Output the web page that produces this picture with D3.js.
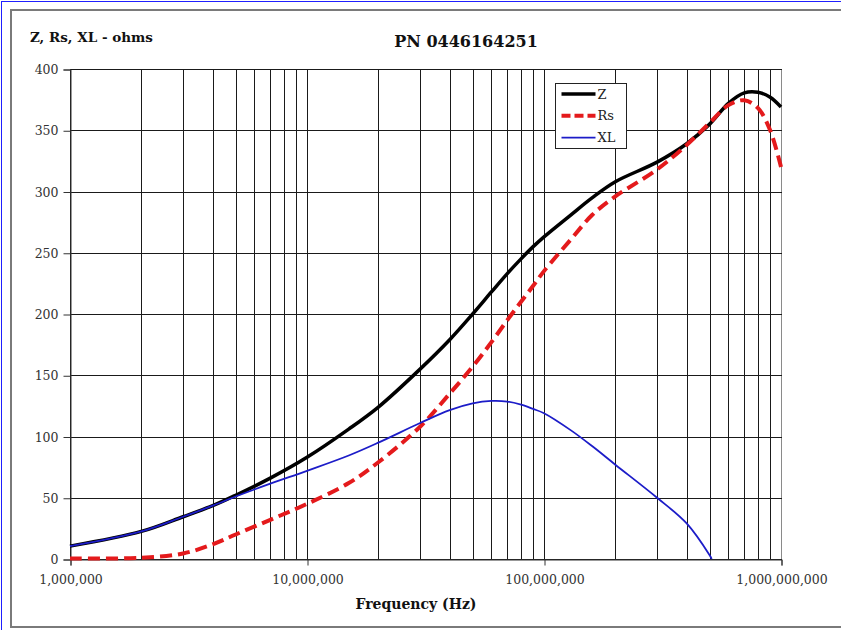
<!DOCTYPE html>
<html>
<head>
<meta charset="utf-8">
<script src="https://cdn.jsdelivr.net/npm/d3@7"></script>
<style>
  html, body { margin: 0; padding: 0; background: #fff; }
  svg { display: block; }
  text { font-family: "DejaVu Serif", "Liberation Serif", serif; }
</style>
</head>
<body>
<svg id="chart" width="841" height="630"></svg>
<script>
// Impedance of ferrite part PN 0446164251 versus frequency
const freqs = [1e6, 2e6, 3e6, 4e6, 5e6, 7e6, 1e7, 1.5e7, 2e7, 3e7, 4e7, 5e7, 6e7, 7e7, 8e7, 9e7,
               1e8, 1.3e8, 1.6e8, 2e8, 3e8, 4e8, 5e8, 6e8, 7e8, 8e8, 9e8, 1e9];
const zOhms = [10.5, 22.5, 34.5, 43.5, 52, 66, 83, 106, 124, 155, 179, 200, 218, 233, 245, 255,
               263, 281, 295, 308, 324, 339, 355, 372, 380.5, 381, 377, 369];
const rsOhms = [0.5, 1, 4.5, 12, 20, 32, 45, 62, 79, 108, 135, 157, 177, 195, 210, 223,
                235, 261, 281, 296, 318, 338, 356, 370.5, 374.5, 368, 350, 320];
const xlFreqs = [1e6, 2e6, 3e6, 4e6, 5e6, 7e6, 1e7, 1.5e7, 2e7, 3e7, 4e7, 5e7, 6e7, 7e7, 8e7, 9e7,
                 1e8, 1.3e8, 1.6e8, 2e8, 3e8, 4e8, 5e8, 5.1e8];
const xlOhms = [10.5, 22.5, 34.5, 43.5, 51, 61.5, 72, 84.5, 95, 111, 121.5, 127, 129, 128.5, 126, 122.5,
                119, 105, 92, 77, 50, 29, 3, 0];
const seriesNames = ["Z", "Rs", "XL"];
const xTickValues = [1e6, 1e7, 1e8, 1e9];
const yTickValues = [0, 50, 100, 150, 200, 250, 300, 350, 400];
const chartTitle = "PN 0446164251";
const yTitle = "Z, Rs, XL - ohms";
const xTitle = "Frequency (Hz)";

const svg = d3.select("#chart");
const plot = { left: 70, right: 781, top: 69, bottom: 559 };

const x = d3.scaleLog().domain([1e6, 1e9]).range([plot.left, plot.right]);
const y = d3.scaleLinear().domain([0, 400]).range([plot.bottom, plot.top]);

// page frame
svg.append("line").attr("x1", 1.5).attr("y1", 1).attr("x2", 1.5).attr("y2", 630)
  .attr("stroke", "#1f1fff").attr("stroke-width", 1);
svg.append("line").attr("x1", 1).attr("y1", 1.5).attr("x2", 841).attr("y2", 1.5)
  .attr("stroke", "#1f1fff").attr("stroke-width", 1);
svg.append("rect").attr("x", 11).attr("y", 10).attr("width", 860).attr("height", 617)
  .attr("fill", "none").attr("stroke", "#7a7a7a").attr("stroke-width", 2);

// vertical grid: every 1..9 x 10^k
const minorFreqs = [];
for (let e = 6; e < 9; e++) for (let m = 1; m <= 9; m++) minorFreqs.push(m * Math.pow(10, e));
minorFreqs.push(1e9);
const grid = svg.append("g").attr("shape-rendering", "crispEdges");
grid.selectAll("line.v").data(minorFreqs).join("line").attr("class", "v")
  .attr("x1", d => Math.round(x(d)) + 0.5).attr("x2", d => Math.round(x(d)) + 0.5)
  .attr("y1", plot.top).attr("y2", plot.bottom)
  .attr("stroke", d => d === 1e9 ? "#8a8a8a" : "#1a1a1a").attr("stroke-width", 1);
grid.selectAll("line.h").data(yTickValues).join("line").attr("class", "h")
  .attr("x1", plot.left).attr("x2", plot.right + 1)
  .attr("y1", d => Math.round(y(d)) + 0.5).attr("y2", d => Math.round(y(d)) + 0.5)
  .attr("stroke", "#1a1a1a").attr("stroke-width", 1);

// axes
const yAxis = d3.axisLeft(y).tickValues(yTickValues).tickSize(7).tickPadding(5)
  .tickFormat(d3.format("d"));
svg.append("g").attr("transform", `translate(${plot.left + 0.5},0.5)`).call(yAxis)
  .call(g => g.select(".domain").attr("stroke", "#333"))
  .call(g => g.selectAll(".tick line").attr("stroke", "#333"))
  .call(g => g.selectAll("text").attr("font-size", 12.5).attr("fill", "#333")
    .attr("font-family", "DejaVu Serif"));

const xAxis = d3.axisBottom(x).tickValues(xTickValues).tickSize(6).tickPadding(10)
  .tickFormat(d3.format(","));
svg.append("g").attr("transform", `translate(0.5,${plot.bottom + 0.5})`).call(xAxis)
  .call(g => g.select(".domain").attr("stroke", "#333"))
  .call(g => g.selectAll(".tick line").attr("stroke", "#333"))
  .call(g => g.selectAll("text").attr("font-size", 12.5).attr("fill", "#333")
    .attr("font-family", "DejaVu Serif"));

// curves
const line = d3.line().x(d => x(d[0])).y(d => y(d[1])).curve(d3.curveCatmullRom.alpha(0.5));
const zPts = d3.zip(freqs, zOhms);
const rsPts = d3.zip(freqs, rsOhms);
const xlPts = d3.zip(xlFreqs, xlOhms);

const styles = {
  Z: { stroke: "#000000", width: 3.5, dash: null },
  Rs: { stroke: "#e41a1c", width: 4, dash: "12,6" },
  XL: { stroke: "#1c1cc8", width: 1.8, dash: null }
};

const curves = svg.append("g").attr("fill", "none");
[["Z", zPts], ["Rs", rsPts], ["XL", xlPts]].forEach(([name, pts]) => {
  const s = styles[name];
  curves.append("path").datum(pts).attr("d", line)
    .attr("stroke", s.stroke).attr("stroke-width", s.width)
    .attr("stroke-dasharray", s.dash).attr("stroke-linejoin", "round");
});

// legend
const legend = svg.append("g").attr("transform", "translate(555.5,83.5)");
legend.append("rect").attr("width", 71).attr("height", 65)
  .attr("fill", "#fff").attr("stroke", "#222").attr("stroke-width", 1);
seriesNames.forEach((name, i) => {
  const s = styles[name];
  const ly = 10.5 + i * 21.8;
  legend.append("line").attr("x1", 6).attr("x2", 40).attr("y1", ly).attr("y2", ly)
    .attr("stroke", s.stroke).attr("stroke-width", s.width)
    .attr("stroke-dasharray", s.dash ? "9,4" : null);
  legend.append("text").attr("x", 42).attr("y", ly).attr("dy", "0.35em")
    .attr("font-size", 13).attr("fill", "#222").text(name);
});

// titles
svg.append("text").attr("x", 466).attr("y", 47).attr("text-anchor", "middle")
  .attr("font-size", 16).attr("font-weight", "bold").attr("fill", "#111").text(chartTitle);
svg.append("text").attr("x", 30).attr("y", 42)
  .attr("font-size", 13.5).attr("font-weight", "bold").attr("fill", "#111").text(yTitle);
svg.append("text").attr("x", 416).attr("y", 609).attr("text-anchor", "middle")
  .attr("font-size", 14).attr("font-weight", "bold").attr("fill", "#111").text(xTitle);
</script>
</body>
</html>
